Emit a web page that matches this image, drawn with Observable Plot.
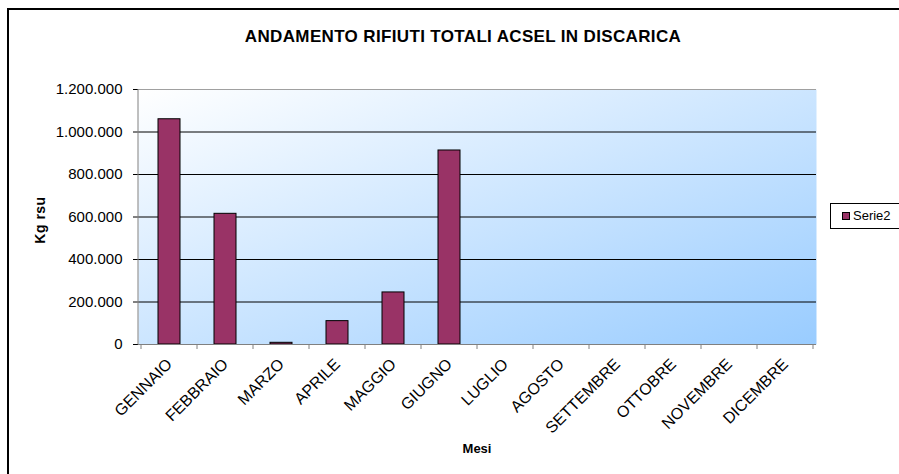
<!DOCTYPE html>
<html><head><meta charset="utf-8">
<script src="https://cdn.jsdelivr.net/npm/d3@7"></script>
<script src="https://cdn.jsdelivr.net/npm/@observablehq/plot@0.6"></script>
<style>
html,body{margin:0;padding:0;background:#fff;overflow:hidden;}
#wrap{position:relative;width:899px;height:474px;overflow:hidden;font-family:Arial,"Liberation Sans",sans-serif;color:#000;}
#border{position:absolute;left:7px;top:8px;width:1000px;height:1000px;border:2px solid #000;box-sizing:border-box;}
#chart{position:absolute;left:0;top:0;}
#title{position:absolute;left:0;width:926px;top:27px;text-align:center;font-weight:bold;font-size:17px;letter-spacing:0.35px;white-space:nowrap;}
#ylab{position:absolute;left:40px;top:220px;transform:translate(-50%,-50%) rotate(-90deg);font-weight:bold;font-size:14px;letter-spacing:0.5px;white-space:nowrap;}
#xlab{position:absolute;left:477px;top:441px;transform:translateX(-50%);font-weight:bold;font-size:13px;white-space:nowrap;}
#legend{position:absolute;left:830px;top:203px;width:120px;height:26px;border:1px solid #000;box-sizing:border-box;background:#fff;font-size:13px;}
#legend .sw{position:absolute;left:11px;top:8px;width:8px;height:8px;background:#993366;border:1px solid #000;box-sizing:border-box;}
#legend .lt{position:absolute;left:22px;top:4px;line-height:15px;}
</style>
</head><body>
<div id="wrap">
  <div id="border"></div>
  <div id="chart"></div>
  <div id="title"></div>
  <div id="ylab"></div>
  <div id="xlab"></div>
  <div id="legend"><div class="sw"></div><div class="lt"></div></div>
</div>
<script>
const titleText = "ANDAMENTO RIFIUTI TOTALI ACSEL IN DISCARICA";
const yLabel = "Kg rsu";
const xLabel = "Mesi";
const seriesName = "Serie2";
const months = ["GENNAIO","FEBBRAIO","MARZO","APRILE","MAGGIO","GIUGNO","LUGLIO","AGOSTO","SETTEMBRE","OTTOBRE","NOVEMBRE","DICEMBRE"];
const values = [1060000, 615000, 8000, 110000, 245000, 913000, null, null, null, null, null, null];
const yTicks = [0, 200000, 400000, 600000, 800000, 1000000, 1200000];

document.getElementById("title").textContent = titleText;
document.getElementById("ylab").textContent = yLabel;
document.getElementById("xlab").textContent = xLabel;
document.querySelector("#legend .lt").textContent = seriesName;

const fmt = d3.formatLocale({decimal: ",", thousands: ".", grouping: [3], currency: ["", ""]}).format(",");
const data = months.map((m, i) => ({mese: m, kg: values[i]})).filter(d => d.kg != null);
const yMax = yTicks[yTicks.length - 1];

const boundaryTicks = (index, scales, vals, dims) => {
  const g = d3.create("svg:g");
  const x = scales.x;
  const top = dims.marginTop, bottom = dims.height - dims.marginBottom;
  const left = dims.marginLeft, right = dims.width - dims.marginRight;
  const step = x.step ? x.step() : (right - left) / months.length;
  const bw = x.bandwidth ? x.bandwidth() : 0;
  const edges = months.map(m => x(m) + bw / 2 - step / 2);
  edges.push(x(months[months.length - 1]) + bw / 2 + step / 2);
  g.selectAll("line.t").data(edges).join("line")
    .attr("x1", d => d).attr("x2", d => d)
    .attr("y1", bottom).attr("y2", bottom + 5)
    .attr("stroke", "#808080");
  g.append("line").attr("x1", left).attr("x2", left).attr("y1", top).attr("y2", bottom + 0.5).attr("stroke", "#808080");
  return g.node();
};

const chart = Plot.plot({
  width: 899, height: 474,
  marginLeft: 138, marginRight: 83, marginTop: 89, marginBottom: 130,
  style: {fontFamily: "Arial, 'Liberation Sans', sans-serif", fontSize: "15px", color: "#000", background: "transparent", overflow: "visible"},
  x: {domain: months, paddingInner: 0.6, paddingOuter: 0.3, align: 0.5, label: null},
  y: {domain: [0, yMax], label: null},
  marks: [
    Plot.frame({fill: "url(#bg)"}),
    Plot.ruleY(yTicks.filter(t => t > 0 && t < yMax), {stroke: "#000", strokeWidth: 1}),
    Plot.ruleY([yMax], {stroke: "#a0a0a0", strokeWidth: 1}),
    Plot.barY(data, {x: "mese", y: "kg", fill: "#993366", stroke: "#000", strokeWidth: 1}),
    Plot.ruleY([0], {stroke: "#808080", strokeWidth: 1}),
    Plot.axisY({ticks: yTicks, tickFormat: fmt, tickSize: 5, tickPadding: 11, label: null, fontSize: 15}),
    Plot.axisX({tickSize: 0, tickRotate: -45, tickPadding: 17, label: null, fontSize: 16}),
    boundaryTicks
  ]
});

const svg = d3.select(chart);
const defs = svg.insert("defs", ":first-child");
const lg = defs.append("linearGradient").attr("id", "bg").attr("x1", "0").attr("y1", "0").attr("x2", "1").attr("y2", "1");
lg.append("stop").attr("offset", "0").attr("stop-color", "#ffffff");
lg.append("stop").attr("offset", "1").attr("stop-color", "#99ccff");
document.getElementById("chart").appendChild(chart);
</script>
</body></html>
